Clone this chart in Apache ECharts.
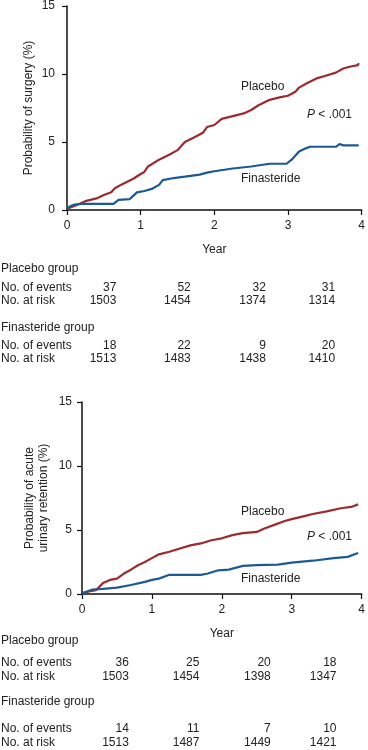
<!DOCTYPE html>
<html>
<head>
<meta charset="utf-8">
<script src="https://cdn.jsdelivr.net/npm/echarts@6/dist/echarts.min.js"></script>
<style>
html,body{margin:0;padding:0;background:#fff;}
#main{width:368px;height:750px;}
</style>
</head>
<body>
<div id="main"></div>
<script>
// ---- Data ----
const xTicks = [0, 1, 2, 3, 4];
const yTicks = [0, 5, 10, 15];

// Panel A: probability of surgery (%)
const surgeryPlacebo = [[0,0.1],[0.1,0.3],[0.25,0.65],[0.4,0.85],[0.5,1.1],[0.6,1.3],[0.65,1.6],[0.75,1.9],[0.9,2.3],[1.0,2.65],[1.05,2.8],[1.1,3.2],[1.25,3.7],[1.4,4.1],[1.5,4.4],[1.6,5.0],[1.75,5.4],[1.85,5.7],[1.9,6.1],[2.0,6.25],[2.1,6.7],[2.25,6.9],[2.4,7.1],[2.5,7.35],[2.6,7.7],[2.75,8.1],[2.9,8.3],[3.0,8.4],[3.1,8.7],[3.15,9.0],[3.25,9.3],[3.4,9.7],[3.5,9.85],[3.65,10.1],[3.75,10.4],[3.85,10.55],[3.95,10.65],[3.96,10.8]];
const surgeryFinasteride = [[0,0.1],[0.05,0.3],[0.1,0.4],[0.2,0.45],[0.63,0.45],[0.7,0.75],[0.85,0.8],[0.95,1.3],[1.05,1.4],[1.15,1.55],[1.25,1.85],[1.3,2.2],[1.45,2.35],[1.6,2.45],[1.8,2.6],[1.9,2.75],[2.0,2.85],[2.25,3.05],[2.5,3.2],[2.75,3.4],[2.98,3.4],[3.05,3.7],[3.15,4.3],[3.25,4.55],[3.3,4.65],[3.65,4.65],[3.7,4.85],[3.75,4.75],[3.96,4.75]];

// Panel B: probability of acute urinary retention (%)
const aurPlacebo = [[0,0.05],[0.1,0.2],[0.2,0.3],[0.3,0.85],[0.4,1.1],[0.5,1.2],[0.6,1.6],[0.7,1.9],[0.8,2.25],[0.9,2.5],[1.0,2.8],[1.1,3.1],[1.25,3.3],[1.4,3.55],[1.55,3.8],[1.7,3.95],[1.85,4.2],[2.0,4.35],[2.15,4.6],[2.3,4.75],[2.5,4.85],[2.6,5.1],[2.75,5.4],[2.9,5.7],[3.0,5.85],[3.15,6.05],[3.3,6.25],[3.5,6.45],[3.7,6.7],[3.85,6.8],[3.95,7.0]];
const aurFinasteride = [[0,0.05],[0.1,0.25],[0.15,0.35],[0.3,0.4],[0.5,0.5],[0.7,0.7],[0.9,0.95],[1.0,1.1],[1.1,1.2],[1.25,1.5],[1.7,1.5],[1.8,1.6],[1.95,1.85],[2.1,1.9],[2.3,2.2],[2.5,2.25],[2.8,2.3],[3.0,2.45],[3.3,2.6],[3.6,2.8],[3.8,2.9],[3.9,3.1],[3.95,3.2]];

// Tables
const rowLabels = ['No. of events', 'No. at risk'];
const surgeryPlaceboEvents = [37, 52, 32, 31];
const surgeryPlaceboRisk = [1503, 1454, 1374, 1314];
const surgeryFinEvents = [18, 22, 9, 20];
const surgeryFinRisk = [1513, 1483, 1438, 1410];
const aurPlaceboEvents = [36, 25, 20, 18];
const aurPlaceboRisk = [1503, 1454, 1398, 1347];
const aurFinEvents = [14, 11, 7, 10];
const aurFinRisk = [1513, 1487, 1449, 1421];

// ---- Layout / style ----
const colAnchor = [0.67, 1.68, 2.7, 3.64]; // year positions of right edges of table columns
const RED = '#9c2a2e', BLUE = '#1b5a94', TXT = '#222';
const FONT = '"Liberation Sans", Arial, sans-serif';

const chart = echarts.init(document.getElementById('main'));

function xAx(i) {
  return {
    gridIndex: i, type: 'value', min: 0, max: 4, interval: 1,
    name: 'Year', nameLocation: 'middle', nameGap: 34,
    nameTextStyle: {fontFamily: FONT, fontSize: 12, color: TXT},
    axisLine: {lineStyle: {color: '#111', width: 1.5}},
    axisTick: {show: true, length: 5, lineStyle: {color: '#111', width: 1.2}},
    axisLabel: {fontFamily: FONT, fontSize: 12, color: TXT, margin: 10},
    splitLine: {show: false}
  };
}
function yAx(i, name, gap, margin) {
  return {
    gridIndex: i, type: 'value', min: 0, max: 15, interval: 5,
    name: name, nameLocation: 'middle', nameGap: gap, nameRotate: 90,
    nameMoveOverlap: false,
    nameTextStyle: {fontFamily: FONT, fontSize: 12, color: TXT, lineHeight: 14},
    axisLine: {show: true, lineStyle: {color: '#111', width: 1.5}},
    axisTick: {show: true, length: 5, lineStyle: {color: '#111', width: 1.2}},
    axisLabel: {fontFamily: FONT, fontSize: 12, color: TXT, margin: margin},
    splitLine: {show: false}
  };
}
function ln(data, color, i) {
  return {type: 'line', xAxisIndex: i, yAxisIndex: i, data: data, showSymbol: false,
    symbol: 'none', lineStyle: {color: color, width: 2.2}, animation: false, z: 3};
}

chart.setOption({
  animation: false,
  grid: [
    {left: 67, right: 5, top: 6, height: 204},
    {left: 82, right: 5, top: 402, height: 192}
  ],
  xAxis: [xAx(0), xAx(1)],
  yAxis: [yAx(0, 'Probability of surgery (%)', 31, 12), yAx(1, 'Probability of acute\nurinary retention (%)', 31, 10)],
  series: [
    ln(surgeryPlacebo, RED, 0), ln(surgeryFinasteride, BLUE, 0),
    ln(aurPlacebo, RED, 1), ln(aurFinasteride, BLUE, 1)
  ]
});

function txt(x, y, text, align, extra) {
  return Object.assign({
    type: 'text', x: x, y: y,
    style: {text: text, fill: TXT, font: '12px ' + FONT, textAlign: align || 'left', textVerticalAlign: 'middle'}
  }, extra || {});
}
function pTxt(x, y) {
  return {type: 'text', x: x, y: y,
    style: {text: '{i|P} < .001', fill: TXT, font: '12px ' + FONT, textVerticalAlign: 'middle',
      rich: {i: {fontStyle: 'italic', fontFamily: FONT, fontSize: 12, fill: TXT}}}};
}

const g = [];
function table(ax, ys, pEv, pRisk, fEv, fRisk) {
  g.push(txt(1, ys[0], 'Placebo group'));
  g.push(txt(1, ys[1], rowLabels[0]));
  g.push(txt(1, ys[2], rowLabels[1]));
  g.push(txt(1, ys[3], 'Finasteride group'));
  g.push(txt(1, ys[4], rowLabels[0]));
  g.push(txt(1, ys[5], rowLabels[1]));
  colAnchor.forEach((t, k) => {
    const px = chart.convertToPixel({xAxisIndex: ax}, t);
    g.push(txt(px, ys[1], String(pEv[k]), 'right'));
    g.push(txt(px, ys[2], String(pRisk[k]), 'right'));
    g.push(txt(px, ys[4], String(fEv[k]), 'right'));
    g.push(txt(px, ys[5], String(fRisk[k]), 'right'));
  });
}
table(0, [269, 288, 301, 328, 346, 359], surgeryPlaceboEvents, surgeryPlaceboRisk, surgeryFinEvents, surgeryFinRisk);
table(1, [641, 663, 677, 702, 729, 743], aurPlaceboEvents, aurPlaceboRisk, aurFinEvents, aurFinRisk);

// in-plot labels
g.push(txt(241, 87, 'Placebo'));
g.push(pTxt(307, 115));
g.push(txt(241, 179, 'Finasteride'));
g.push(txt(241, 512, 'Placebo'));
g.push(pTxt(307, 537));
g.push(txt(241, 579, 'Finasteride'));

chart.setOption({graphic: {elements: g}});
</script>
</body>
</html>
